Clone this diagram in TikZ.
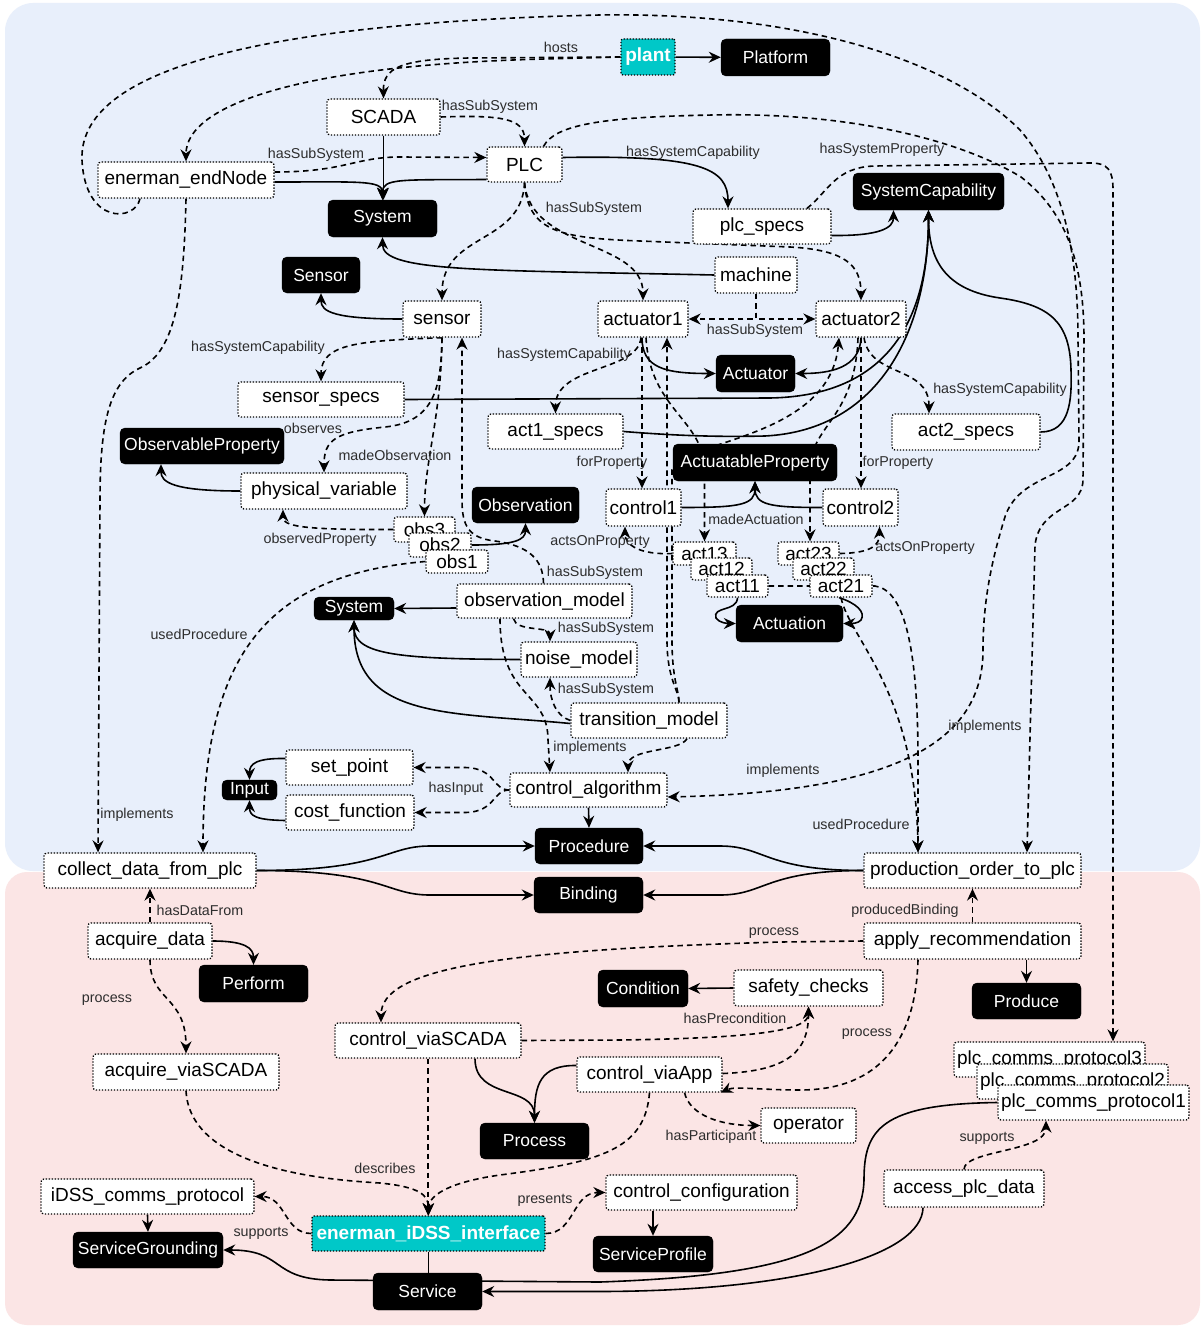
\documentclass[tikz,border=0pt]{standalone}
\usepackage{fontspec}
\setmainfont{Liberation Sans}
\usetikzlibrary{arrows.meta}
\pgfdeclarelayer{bg}
\pgfdeclarelayer{edges}
\pgfsetlayers{bg,edges,main}
\definecolor{bluebg}{RGB}{232,239,251}
\definecolor{pinkbg}{RGB}{251,229,229}
\definecolor{tealfill}{RGB}{0,200,200}
\definecolor{lblgray}{RGB}{45,45,45}
\begin{document}
\begin{tikzpicture}[x=1pt,y=-1pt,
  sz/.style 2 args={minimum width=#1pt,minimum height=#2pt},
  ind/.style={draw=black,line width=1.3pt,dash pattern=on 1.3pt off 1.7pt,fill=white,rounded corners=3pt,inner sep=0pt,font=\fontsize{19}{22}\selectfont,text=black},
  cls/.style={draw=black,fill=black,rounded corners=5pt,inner sep=0pt,font=\fontsize{17.5}{20}\selectfont,text=white},
  tealbox/.style={draw=black,line width=1.3pt,dash pattern=on 1.3pt off 1.7pt,fill=tealfill,rounded corners=2pt,inner sep=0pt,font=\bfseries\fontsize{19}{22}\selectfont,text=white},
  sol/.style={line width=1.6pt,-{Stealth[length=12pt,width=11pt,inset=4pt]}},
  dsh/.style={sol,dash pattern=on 5.5pt off 4pt},
  lbl/.style={font=\fontsize{14.3}{17}\selectfont,text=lblgray,inner sep=0pt}]
\useasboundingbox (0,0) rectangle (1200,1327);
\begin{pgfonlayer}{bg}
  \fill[white] (0,0) rectangle (1200,1327);
  \fill[bluebg,rounded corners=28pt] (5,3) rectangle (1200,871);
  \fill[pinkbg,rounded corners=22pt] (5,872) rectangle (1200,1325);
\end{pgfonlayer}

% ---------- nodes ----------
\node[tealbox,sz={54}{36}] (plant) at (648,57) {plant};
\node[cls,sz={109}{37}] (Platform) at (775.5,57.5) {Platform};
\node[ind,sz={113}{36}] (SCADA) at (383.5,117) {SCADA};
\node[ind,sz={75}{35}] (PLC) at (524.5,164.5) {PLC};
\node[ind,sz={176}{36}] (enerman) at (186,180) {enerman\_endNode};
\node[cls,sz={109}{37}] (Systop) at (382.5,218.5) {System};
\node[ind,sz={138}{35}] (plcspecs) at (762,226.5) {plc\_specs};
\node[cls,sz={151}{37}] (SysCap) at (928.5,191.5) {SystemCapability};
\node[ind,sz={82}{36}] (machine) at (756,275) {machine};
\node[cls,sz={78}{36}] (Sensor) at (321,275) {Sensor};
\node[ind,sz={78}{36}] (sensor) at (442,319) {sensor};
\node[ind,sz={90}{36}] (actuator1) at (643,319) {actuator1};
\node[ind,sz={90}{36}] (actuator2) at (861,319) {actuator2};
\node[cls,sz={79}{37}] (Actuator) at (755.5,373.5) {Actuator};
\node[ind,sz={166}{35}] (sensorspecs) at (321,399.5) {sensor\_specs};
\node[ind,sz={135}{35}] (act1specs) at (555.5,431.5) {act1\_specs};
\node[ind,sz={148}{36}] (act2specs) at (966,432) {act2\_specs};
\node[cls,sz={164}{36}] (ObsProp) at (202,446) {ObservableProperty};
\node[cls,sz={164}{37}] (ActProp) at (755,462.5) {ActuatableProperty};
\node[ind,sz={166}{36}] (physvar) at (324,491) {physical\_variable};
\node[cls,sz={107}{36}] (Observation) at (525.5,505) {Observation};
\node[ind,sz={75}{37}] (control1) at (643.5,507.5) {control1};
\node[ind,sz={75}{37}] (control2) at (860.5,507.5) {control2};
\node[ind,sz={61}{25}] (obs3) at (424.5,529.5) {obs3};
\node[ind,sz={62}{24}] (obs2) at (440,545) {obs2};
\node[ind,sz={62}{23}] (obs1) at (457,561.5) {obs1};
\node[ind,sz={63}{23}] (act13) at (704.5,553.5) {act13};
\node[ind,sz={61}{22}] (act12) at (721.5,569) {act12};
\node[ind,sz={61}{22}] (act11) at (737.5,586) {act11};
\node[ind,sz={61}{23}] (act23) at (808.5,553.5) {act23};
\node[ind,sz={61}{22}] (act22) at (823.5,569) {act22};
\node[ind,sz={62}{22}] (act21) at (841,586) {act21};
\node[cls,sz={107}{37}] (Actuation) at (789.5,623.5) {Actuation};
\node[cls,sz={80}{23}] (Sysmid) at (354,608.5) {System};
\node[ind,sz={175}{34}] (obsmodel) at (544.5,601) {observation\_model};
\node[ind,sz={116}{35}] (noise) at (579,659.5) {noise\_model};
\node[ind,sz={156}{35}] (transition) at (649,720.5) {transition\_model};
\node[ind,sz={157}{34}] (ctrlalgo) at (588.5,790) {control\_algorithm};
\node[cls,sz={108}{36}] (Procedure) at (589,846) {Procedure};
\node[cls,sz={109}{36}] (Binding) at (588.5,895) {Binding};
\node[ind,sz={127}{35}] (setpoint) at (349.5,767.5) {set\_point};
\node[ind,sz={128}{35}] (cost) at (350,812.5) {cost\_function};
\node[cls,sz={55}{20}] (Input) at (249.5,790) {Input};
\node[ind,sz={212}{35}] (collect) at (150,870.5) {collect\_data\_from\_plc};
\node[ind,sz={217}{35}] (production) at (972.5,870.5) {production\_order\_to\_plc};
\node[ind,sz={124}{36}] (acquire) at (150,941) {acquire\_data};
\node[cls,sz={109}{37}] (Perform) at (253.5,983.5) {Perform};
\node[ind,sz={217}{36}] (apply) at (972.5,941) {apply\_recommendation};
\node[cls,sz={109}{36}] (Produce) at (1026.5,1001) {Produce};
\node[cls,sz={90}{37}] (Condition) at (643,988.5) {Condition};
\node[ind,sz={149}{36}] (safety) at (808.5,988) {safety\_checks};
\node[ind,sz={186}{35}] (ctrlSCADA) at (428,1040.5) {control\_viaSCADA};
\node[ind,sz={186}{36}] (acqvia) at (186,1072) {acquire\_viaSCADA};
\node[ind,sz={145}{35}] (cva) at (649.5,1074.5) {control\_viaApp};
\node[ind,sz={191}{35}] (pcp3) at (1049.5,1059.5) {plc\_comms\_protocol3};
\node[ind,sz={191}{35}] (pcp2) at (1072.5,1081.5) {plc\_comms\_protocol2};
\node[ind,sz={191}{35}] (pcp1) at (1093.5,1102.5) {plc\_comms\_protocol1};
\node[cls,sz={109}{36}] (Process) at (534.5,1141) {Process};
\node[ind,sz={95}{35}] (operator) at (808.5,1125.5) {operator};
\node[ind,sz={160}{37}] (access) at (964,1188.5) {access\_plc\_data};
\node[ind,sz={213}{35}] (idss) at (147.5,1196.5) {iDSS\_comms\_protocol};
\node[ind,sz={191}{35}] (ctrlconf) at (701.5,1192.5) {control\_configuration};
\node[cls,sz={150}{36}] (SG) at (148,1250) {ServiceGrounding};
\node[tealbox,sz={233}{35}] (iface) at (428.5,1233.5) {enerman\_iDSS\_interface};
\node[cls,sz={120}{36}] (SP) at (653,1254) {ServiceProfile};
\node[cls,sz={109}{37}] (Service) at (427.5,1291.5) {Service};

% ---------- edge labels ----------
\node[lbl] (lbHosts) at (561,47) {hosts};
\node[lbl] (lbSub1) at (490,107) {hasSubSystem};
\node[lbl] (lbSub2) at (316,155) {hasSubSystem};
\node[lbl] (lbCap1) at (693,153) {hasSystemCapability};
\node[lbl] (lbProp) at (882,150) {hasSystemProperty};
\node[lbl] (lbSub3) at (594,209) {hasSubSystem};
\node[lbl] (lbSub4) at (755,331) {hasSubSystem};
\node[lbl] (lbCap2) at (258,348) {hasSystemCapability};
\node[lbl] (lbCap3) at (564,355) {hasSystemCapability};
\node[lbl] (lbCap4) at (1000,390) {hasSystemCapability};
\node[lbl] (lbObserves) at (313,428) {observes};
\node[lbl] (lbMadeObs) at (395,455) {madeObservation};
\node[lbl] (lbFor1) at (612,463) {forProperty};
\node[lbl] (lbFor2) at (898,463) {forProperty};
\node[lbl] (lbObsProp) at (320,540) {observedProperty};
\node[lbl] (lbMadeAct) at (756,519) {madeActuation};
\node[lbl] (lbActs1) at (600,542) {actsOnProperty};
\node[lbl] (lbActs2) at (925,548) {actsOnProperty};
\node[lbl] (lbSub5) at (595,573) {hasSubSystem};
\node[lbl] (lbSub6) at (606,629) {hasSubSystem};
\node[lbl] (lbUsed1) at (199,634) {usedProcedure};
\node[lbl] (lbSub7) at (606,690) {hasSubSystem};
\node[lbl] (lbImp1) at (985,727) {implements};
\node[lbl] (lbImp2) at (590,748) {implements};
\node[lbl] (lbImp3) at (783,771) {implements};
\node[lbl] (lbInput) at (456,789) {hasInput};
\node[lbl] (lbImp4) at (137,815) {implements};
\node[lbl] (lbUsed2) at (861,824) {usedProcedure};
\node[lbl] (lbData) at (200,910) {hasDataFrom};
\node[lbl] (lbBind) at (905,911) {producedBinding};
\node[lbl] (lbProc1) at (774,933) {process};
\node[lbl] (lbProc2) at (107,1000) {process};
\node[lbl] (lbPre) at (735,1018) {hasPrecondition};
\node[lbl] (lbProc3) at (867,1034) {process};
\node[lbl] (lbPart) at (711,1137) {hasParticipant};
\node[lbl] (lbSup1) at (987,1138) {supports};
\node[lbl] (lbDesc) at (385,1168) {describes};
\node[lbl] (lbPres) at (545,1200) {presents};
\node[lbl] (lbSup2) at (261,1233) {supports};

% ---------- connectors ----------
\begin{pgfonlayer}{edges}
% hosting and subsystems at the top
\draw[sol] (plant) -- (Platform);
\draw[dsh] (plant.west) -- (470,58) .. controls (400,59) and (383,68) .. (SCADA.north);
\draw[dsh] (plant.west) -- (545,59) .. controls (300,65) and (186,105) .. (enerman.north);
\draw[dsh] (SCADA.east) .. controls (500,115) and (524.5,118) .. (PLC.north);
\draw[dsh] ([yshift=8pt]enerman.east) .. controls (345,172) and (355,157) .. (400,157) -- ([yshift=7pt]PLC.west);
\draw[sol] (SCADA.south) -- (SCADA.south |- Systop.north);
\draw[sol] ([yshift=-2pt]enerman.east) .. controls (360,182) and (382.5,180) .. (Systop.north);
\draw[sol] ([yshift=-15pt]PLC.west) .. controls (400,180) and (382.5,178) .. (Systop.north);
\draw[sol] ([yshift=7pt]PLC.east) .. controls (700,155) and (728,168) .. ([xshift=-34pt]plcspecs.north);
\draw[sol] ([yshift=-9pt]plcspecs.east) .. controls (880,236) and (893.5,228) .. ([xshift=-35pt]SysCap.south);
\draw[sol] (machine.west) .. controls (480,270) and (382.5,272) .. (Systop.south);
\draw[dsh] (PLC.south) .. controls (522,245) and (442,232) .. (sensor.north);
\draw[dsh] (PLC.south) .. controls (530,250) and (643,240) .. (actuator1.north);
\draw[dsh] (PLC.south) .. controls (528,232) and (560,238) .. (640,241) -- (790,247) .. controls (845,250) and (861,265) .. (actuator2.north);
\draw[dsh] (machine.south) |- (actuator1.east);
\draw[dsh] (machine.south) |- (actuator2.west);

% sensor
\draw[sol] (sensor.west) .. controls (335,319) and (321,312) .. (Sensor.south);
\draw[dsh] (sensor.south) .. controls (360,341) and (321,343) .. (sensorspecs.north);
\draw[dsh] (sensor.south) .. controls (441,385) and (436,422) .. (385,427) .. controls (335,432) and (324,440) .. (physvar.north);
\draw[dsh] (sensor.south) .. controls (441,420) and (424.5,460) .. (obs3.north);
\draw[dsh] ([xshift=-1pt]obsmodel.north) .. controls (543,560) and (530,546) .. (495,541) .. controls (468,538) and (462,525) .. (462,500) -- ([xshift=20pt]sensor.south);

% capabilities
\draw[sol] (sensorspecs.east) -- (770,398) .. controls (880,396) and (928.5,330) .. (SysCap.south);
\draw[sol] (act1specs.east) .. controls (680,436) and (720,437) .. (765,436) .. controls (880,430) and (928.5,330) .. (SysCap.south);
\draw[sol] (act2specs.east) .. controls (1070,432) and (1072,400) .. (1071,370) .. controls (1070,322) and (1050,305) .. (1000,298) .. controls (945,290) and (928.5,260) .. (SysCap.south);

% actuators
\draw[sol] ([xshift=-1pt]actuator1.south) .. controls (642,368) and (665,373.5) .. (Actuator.west);
\draw[sol] (actuator2.south) .. controls (860,368) and (830,373.5) .. (Actuator.east);
\draw[dsh] ([xshift=-1pt]actuator1.south) -- ([xshift=-1.5pt]control1.north);
\draw[dsh] (actuator2.south) -- ([xshift=0.5pt]control2.north);
\draw[dsh] ([xshift=-2pt]actuator1.south) .. controls (638,372) and (555.5,365) .. (act1specs.north);
\draw[dsh] ([xshift=3pt]actuator2.south) .. controls (870,378) and (929,365) .. ([xshift=-37pt]act2specs.north);
\draw[dsh] ([xshift=3pt]actuator1.south) .. controls (650,410) and (704.5,420) .. (704.5,470) -- (act13.north);
\draw[dsh] ([xshift=-3pt]actuator2.south) .. controls (855,420) and (810,425) .. (810,470) -- ([xshift=1.5pt]act23.north);
\draw[dsh] ([xshift=30pt]transition.north) .. controls (679,690) and (667,680) .. (667,640) -- ([xshift=24pt]actuator1.south);
\draw[dsh] ([xshift=30pt]transition.north) .. controls (679,690) and (672,680) .. (672,640) -- (672,470) .. controls (680,440) and (830,440) .. ([xshift=-22pt]actuator2.south);

% actuations
\draw[sol] (control1.east) .. controls (740,507.5) and (755,505) .. (ActProp.south);
\draw[sol] (control2.west) .. controls (770,507.5) and (755,505) .. (ActProp.south);
\draw[dsh] (act13.west) .. controls (640,555) and (625,545) .. ([xshift=-18.5pt]control1.south);
\draw[dsh] (act23.east) .. controls (872,553) and (879.5,545) .. ([xshift=19pt]control2.south);
\draw[sol] (act11.south) .. controls (737,612) and (712,606) .. (716,618) .. controls (719,623) and (728,623.5) .. (Actuation.west);
\draw[sol] ([xshift=-2pt]act21.south) .. controls (856,603) and (866,612) .. (861,620) .. controls (858,623.5) and (852,623.5) .. (Actuation.east);
\draw[dsh] (act11.east) -- (875,586) .. controls (905,590) and (918,650) .. (918,760) -- ([xshift=-54.5pt]production.north);
\draw[dsh] (act21.south) .. controls (850,640) and (916,690) .. ([xshift=-54.5pt]production.north);

% observations
\draw[sol] (physvar.west) .. controls (172,491) and (161,482) .. ([xshift=-41pt]ObsProp.south);
\draw[dsh] (obs3.west) .. controls (300,530) and (283,526) .. ([xshift=-41pt]physvar.south);
\draw[sol] (obs2.east) .. controls (515,545) and (525.5,540) .. (Observation.south);
\draw[dsh] (obs1.west) .. controls (270,575) and (203,650) .. ([xshift=53pt]collect.north);

% models
\draw[sol] ([yshift=-7pt]obsmodel.west) -- (Sysmid.east);
\draw[dsh] ([xshift=-31pt]obsmodel.south) .. controls (516,632) and (550,626) .. ([xshift=-29pt]noise.north);
\draw[sol] (noise.west) .. controls (400,659) and (354,655) .. (Sysmid.south);
\draw[sol] ([yshift=-3pt]transition.west) .. controls (450,712) and (354,720) .. (Sysmid.south);
\draw[dsh] (transition.west) .. controls (556,716) and (550,700) .. ([xshift=-29pt]noise.south);
\draw[dsh] ([xshift=-44.5pt]obsmodel.south) .. controls (500,700) and (548,690) .. (548,740) -- ([xshift=-38.5pt]ctrlalgo.north);
\draw[dsh] ([xshift=38pt]transition.south) .. controls (680,752) and (628,748) .. ([xshift=39.5pt]ctrlalgo.north);

% control algorithm
\draw[sol] (ctrlalgo.south) -- (Procedure.north);
\draw[dsh] (ctrlalgo.west) .. controls (492,790) and (496,768) .. (465,767.5) -- (setpoint.east);
\draw[dsh] (ctrlalgo.west) .. controls (492,790) and (496,812) .. (465,812.5) -- (cost.east);
\draw[sol] ([yshift=9pt]setpoint.west) .. controls (256,758) and (249.5,764) .. (Input.north);
\draw[sol] ([yshift=-8pt]cost.west) .. controls (256,820) and (249.5,816) .. (Input.south);

% long implements connectors
\draw[dsh] (enerman.south) .. controls (184,290) and (176,352) .. (140,368) .. controls (110,382) and (100,420) .. (100,500) -- ([xshift=-52pt]collect.north);
\draw[dsh] ([xshift=-46pt]enerman.south) .. controls (135,222) and (85,225) .. (82,160) .. controls (78,60) and (300,22) .. (600,15) .. controls (800,12) and (950,60) .. (1020,130) .. controls (1072,190) and (1078,280) .. (1078,340) -- (1079,440) .. controls (1080,482) and (1018,470) .. (1004,520) .. controls (992,560) and (983,600) .. (983,650) .. controls (983,740) and (900,792) .. ([yshift=-7pt]ctrlalgo.east);
\draw[dsh] ([xshift=19pt]PLC.north) .. controls (555,125) and (600,117) .. (713,115) .. controls (850,112) and (960,140) .. (1021,177) .. controls (1070,215) and (1084,270) .. (1084,340) -- (1083,480) .. controls (1082,512) and (1040,505) .. (1035,545) -- ([xshift=54.5pt]production.north);
\draw[dsh] ([xshift=45pt]plcspecs.north) .. controls (828,192) and (835,167) .. (875,166) -- (1090,163) .. controls (1108,163) and (1113,170) .. (1113,190) -- ([xshift=63.5pt]pcp3.north);

% procedures and bindings
\draw[sol] (collect.east) .. controls (385,870.5) and (385,846) .. (430,846) -- (Procedure.west);
\draw[sol] (collect.east) .. controls (385,870.5) and (385,895) .. (430,895) -- (Binding.west);
\draw[sol] (production.west) .. controls (765,870.5) and (765,846) .. (720,846) -- (Procedure.east);
\draw[sol] (production.west) .. controls (765,870.5) and (765,895) .. (720,895) -- (Binding.east);

% services
\draw[dsh] (acquire.north) -- (collect.south);
\draw[sol] (acquire.east) .. controls (245,941) and (253.5,948) .. (Perform.north);
\draw[dsh] (acquire.south) .. controls (150,1002) and (186,995) .. (acqvia.north);
\draw[dsh] (apply.north) -- (production.south);
\draw[sol] ([xshift=54pt]apply.south) -- (Produce.north);
\draw[dsh] (apply.west) -- (780,942) .. controls (500,950) and (381,968) .. ([xshift=-47pt]ctrlSCADA.north);
\draw[dsh] ([xshift=-54.5pt]apply.south) .. controls (916,1040) and (880,1090) .. (800,1090) .. controls (760,1090) and (735,1086) .. ([xshift=-2pt]cva.south east);
\draw[sol] (safety.west) -- (Condition.east);
\draw[dsh] (ctrlSCADA.east) -- (620,1040) .. controls (760,1038) and (808.5,1030) .. (safety.south);
\draw[dsh] ([yshift=1pt]cva.east) .. controls (790,1071) and (808.5,1050) .. (safety.south);
\draw[sol] ([xshift=47pt]ctrlSCADA.south) .. controls (475,1100) and (534.5,1085) .. (Process.north);
\draw[sol] ([yshift=9pt]cva.west) .. controls (540,1065) and (534.5,1085) .. (Process.north);
\draw[dsh] ([xshift=35pt]cva.south) .. controls (690,1116) and (722,1125.5) .. (operator.west);
\draw[dsh] (ctrlSCADA.south) -- (ctrlSCADA.south |- iface.north);
\draw[dsh] (acqvia.south) .. controls (190,1170) and (330,1180) .. (380,1183) .. controls (420,1187) and (428.5,1195) .. (iface.north);
\draw[dsh] (cva.south) .. controls (645,1150) and (600,1162) .. (500,1175) .. controls (450,1182) and (428.5,1195) .. (iface.north);
\draw[dsh] (iface.west) .. controls (284,1233.5) and (286,1196.5) .. (idss.east);
\draw[dsh] (iface.east) .. controls (575,1233.5) and (572,1192.5) .. (ctrlconf.west);
\draw[sol] (idss.south) -- (SG.north);
\draw[sol] ([xshift=-48.5pt]ctrlconf.south) -- (SP.north);
\draw[line width=1.6pt] (iface.south) -- (iface.south |- Service.north);
\draw[sol] (pcp1.west) .. controls (880,1104) and (864,1130) .. (864,1180) .. controls (862,1245) and (800,1275) .. (600,1282) -- (330,1280) .. controls (270,1279) and (285,1250) .. (SG.east);
\draw[sol] ([xshift=-41pt]access.south) .. controls (922,1255) and (800,1291) .. (600,1291.5) -- (Service.east);
\draw[dsh] (access.north) .. controls (964,1150) and (1046,1152) .. ([xshift=-47.5pt]pcp1.south);
\end{pgfonlayer}
\end{tikzpicture}
\end{document}
